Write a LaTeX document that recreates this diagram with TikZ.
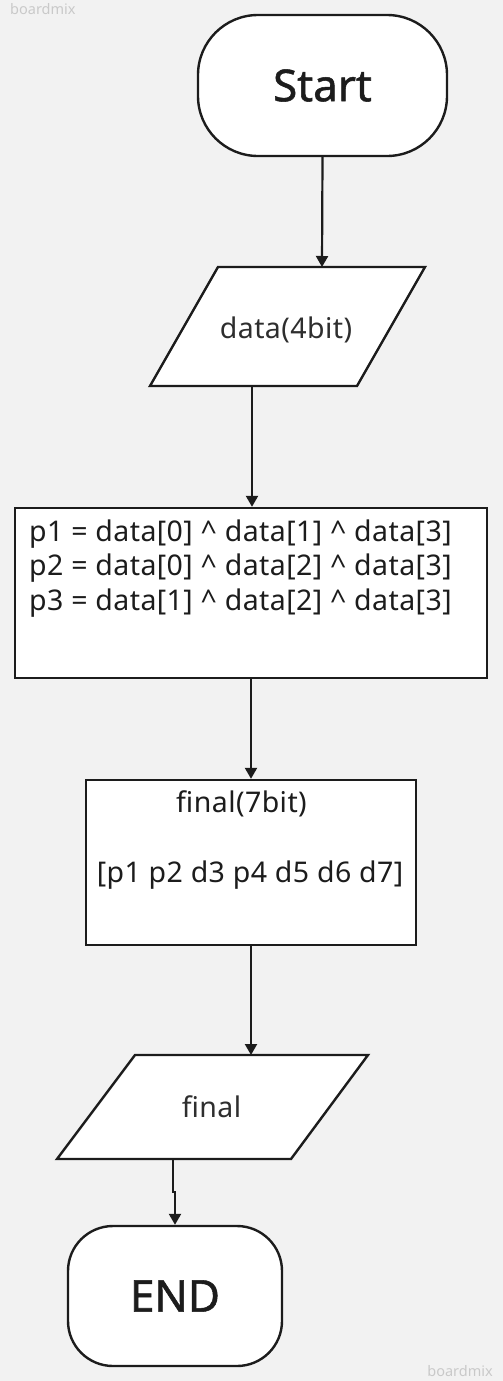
\documentclass[tikz,border=0pt]{standalone}
\usepackage{fontspec}
\setmainfont{Noto Sans}
\usetikzlibrary{arrows.meta}
\definecolor{bgfill}{HTML}{F2F2F2}
\definecolor{ink}{HTML}{1C1C1C}
\definecolor{softink}{HTML}{2E2E2E}
\definecolor{wmgrey}{HTML}{C9C9C9}

\begin{document}
\begin{tikzpicture}[x=1pt,y=-1pt,
  shapeline/.style={draw=ink, line width=2.4pt, fill=white},
  arr/.style={draw=ink, line width=2.2pt, -{Triangle[length=11pt,width=12pt]}},
  txt/.style={text=ink, inner sep=0pt, font=\fontsize{28.5}{34.5}\selectfont\addfontfeatures{LetterSpace=1.5}},
  big/.style={text=ink, font=\fontsize{44}{50}\selectfont\addfontfeatures{FakeBold=1.2}},
  wm/.style={text=wmgrey, inner sep=0pt, font=\fontsize{14.5}{16}\selectfont}]
\fill[bgfill] (0,0) rectangle (503,1381);
\useasboundingbox (0,0) rectangle (503,1381);
\node[wm, anchor=base west] (wmtop) at (10,15) {boardmix};
\node[wm, anchor=base east] (wmbot) at (493,1376) {boardmix};

\node[shapeline, big, rounded corners=60pt, minimum width=249pt, minimum height=141pt] (start) at (322.5,85.5) {Start};

\draw[shapeline] (218,267) -- (425,267) -- (357,386) -- (150,386) -- cycle;
\coordinate (datain) at (322,267);
\coordinate (dataout) at (252,386);
\node[txt, text=softink, anchor=base] (data) at (286,338) {data(4bit)};

\node[shapeline, minimum width=472pt, minimum height=170pt] (parity) at (251,593) {};
\node[txt, anchor=base west] (pone) at (29,541) {p1 = data[0] \textasciicircum{} data[1] \textasciicircum{} data[3]};
\node[txt, anchor=base west] (ptwo) at (29,575.5) {p2 = data[0] \textasciicircum{} data[2] \textasciicircum{} data[3]};
\node[txt, anchor=base west] (pthree) at (29,610) {p3 = data[1] \textasciicircum{} data[2] \textasciicircum{} data[3]};

\node[shapeline, minimum width=330pt, minimum height=165pt] (final) at (251,862.5) {};
\node[txt, anchor=base] (finalhead) at (241.5,812) {final(7bit)};
\node[txt, anchor=base] (finalbits) at (250,882) {[p1 p2 d3 p4 d5 d6 d7]};

\draw[shapeline] (135,1055) -- (368,1055) -- (291,1159) -- (57,1159) -- cycle;
\coordinate (outin) at (251,1055);
\coordinate (outout) at (173,1159);
\node[txt, text=softink, anchor=base] (output) at (211.5,1117) {final};

\node[shapeline, big, rounded corners=45pt, minimum width=214pt, minimum height=140pt] (end) at (175,1296) {END};

\draw[arr] (start.south) -- (datain);
\draw[arr] (dataout) -- (dataout |- parity.north);
\draw[arr] (parity) -- (final);
\draw[arr] (final.south) -- (outin);
\draw[arr] (outout) -- ++(0,33) -| (end.north);
\end{tikzpicture}
\end{document}
